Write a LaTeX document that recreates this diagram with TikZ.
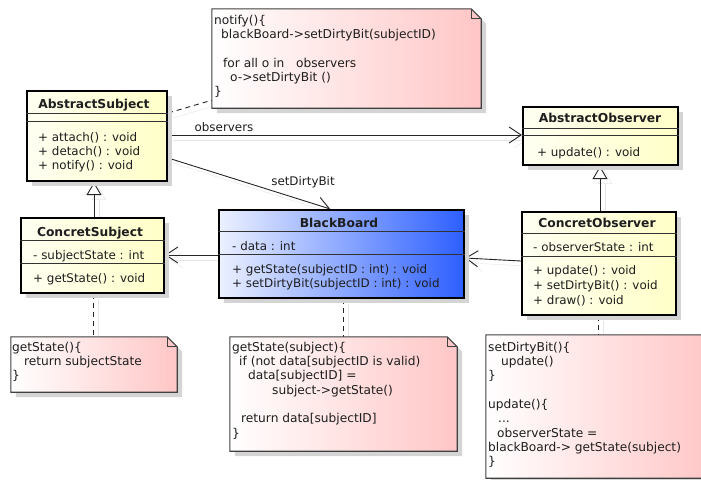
\documentclass[tikz,border=0pt]{standalone}
\usepackage{fontspec}
\setmainfont{DejaVu Sans}
\usetikzlibrary{arrows.meta,shadows,fit}
\definecolor{ylA}{RGB}{255,255,242}
\definecolor{ylB}{RGB}{255,255,200}
\definecolor{bbA}{RGB}{236,241,255}
\definecolor{bbB}{RGB}{45,95,255}
\definecolor{pkB}{RGB}{255,198,198}
\definecolor{txt}{RGB}{30,30,30}
\pgfdeclarelayer{bg}
\pgfsetlayers{bg,main}
\newcommand\notebox[5]{%
  \coordinate (#1nw) at (#2,#3);
  \coordinate (#1se) at (#4,#5);
  \node[fit=(#1nw)(#1se), inner sep=0pt] (#1) {};
  \fill[black!17, transform canvas={shift={(5pt,-5pt)}}] (#1.north west) -- ([xshift=-10pt]#1.north east) -- ([yshift=-10pt]#1.north east) -- (#1.south east) -- (#1.south west) -- cycle;
  \path[notefill] (#1.north west) -- ([xshift=-10pt]#1.north east) -- ([yshift=-10pt]#1.north east) -- (#1.south east) -- (#1.south west) -- cycle;
  \draw[noteline] ([xshift=-10pt]#1.north east) |- ([yshift=-10pt]#1.north east);
}
\begin{document}
\begin{tikzpicture}[x=1pt,y=-1pt,
  font=\fontsize{11.9}{14}\selectfont, text=txt,
  cls/.style={draw=black, line width=2.2pt, inner sep=0pt,
    drop shadow={shadow xshift=5pt, shadow yshift=-5pt, fill=black!17, opacity=1}},
  ylw/.style={cls, left color=ylA, right color=ylB},
  blu/.style={cls, left color=bbA, right color=bbB},
  sepl/.style={draw=black!80, line width=1pt},
  ttl/.style={anchor=base, inner sep=0pt, font=\fontsize{12.3}{14}\selectfont\bfseries},
  mem/.style={anchor=north west, inner sep=0pt, align=left},
  notefill/.style={draw=black!75, line width=1.1pt, left color=white, right color=pkB},
  noteline/.style={draw=black!75, line width=1.1pt},
  notetxt/.style={anchor=north west, inner sep=0pt, align=left, font=\fontsize{12.2}{14.3}\selectfont},
  conn/.style={draw=black!85, line width=0.9pt,
    preaction={draw=black!10, solid, transform canvas={shift={(5pt,-5pt)}}}},
  assoc/.style={conn, -{Straight Barb[length=12pt,width=16pt,line width=0.9pt]}},
  gener/.style={conn, -{Triangle[length=13pt,width=15pt,fill=white,line width=0.9pt]}},
  anchorline/.style={conn, dash pattern=on 5pt off 4pt},
  lbl/.style={inner sep=0pt}
]
\useasboundingbox (0,0) rectangle (701,479);
\begin{pgfonlayer}{bg}
\fill[white] (0,0) rectangle (701,479);
\end{pgfonlayer}

% ---------- notes ----------
\notebox{N1}{212}{9}{481}{108}
\node[notetxt] (N1t) at (214,14) {\rule{0pt}{10pt}notify()\{\\
\hspace*{7pt}blackBoard->setDirtyBit(subjectID)\\
\mbox{}\\
\hspace*{9pt}for all o in \ \ observers\\
\hspace*{16pt}o->setDirtyBit ()\\
\}};

\notebox{N2}{11}{337}{177}{392}
\node[notetxt] (N2t) at (12,341) {\rule{0pt}{10pt}getState()\{\\
\hspace*{12pt}return subjectState\\
\}};

\notebox{N3}{230}{337}{457}{451}
\node[notetxt] (N3t) at (232,341) {\rule{0pt}{10pt}getState(subject)\{\\
\hspace*{7pt}if (not data[subjectID is valid)\\
\hspace*{16pt}data[subjectID] =\\
\hspace*{40pt}subject->getState()\\
\mbox{}\\
\hspace*{9pt}return data[subjectID]\\
\}};

\notebox{N4}{486}{335}{711}{478}
\node[notetxt] (N4t) at (488,341) {\rule{0pt}{10pt}setDirtyBit()\{\\
\hspace*{13pt}update()\\
\}\\
\mbox{}\\
update()\{\\
\hspace*{10pt}...\\
\hspace*{9pt}observerState =\\
blackBoard-> getState(subject)\\
\}};

% ---------- classes ----------
\node[ylw, minimum width=140pt, minimum height=90pt] (AS) at (97,136) {};
\draw[sepl] ([yshift=-24pt]AS.north west) -- ([yshift=-24pt]AS.north east);
\draw[sepl] ([yshift=-32pt]AS.north west) -- ([yshift=-32pt]AS.north east);
\node[ttl] (ASt) at (94,108) {AbstractSubject};
\node[mem] (ASm) at (38,131) {\rule{0pt}{10pt}+ attach() : void\\+ detach() : void\\+ notify() : void};

\node[ylw, minimum width=155pt, minimum height=58pt] (AO) at (600.5,136) {};
\draw[sepl] ([yshift=-23pt]AO.north west) -- ([yshift=-23pt]AO.north east);
\draw[sepl] ([yshift=-30pt]AO.north west) -- ([yshift=-30pt]AO.north east);
\node[ttl] (AOt) at (600,122) {AbstractObserver};
\node[mem] (AOm) at (537,146) {\rule{0pt}{10pt}+ update() : void};

\node[ylw, minimum width=143pt, minimum height=75pt] (CS) at (92.5,255.5) {};
\draw[sepl] ([yshift=-24pt]CS.north west) -- ([yshift=-24pt]CS.north east);
\draw[sepl] ([yshift=-47pt]CS.north west) -- ([yshift=-47pt]CS.north east);
\node[ttl] (CSt) at (90,236) {ConcretSubject};
\node[mem] (CSa) at (33,249) {\rule{0pt}{10pt}- subjectState : int};
\node[mem] (CSm) at (33,272) {\rule{0pt}{10pt}+ getState() : void};

\node[blu, minimum width=245pt, minimum height=88pt] (BB) at (341.5,254) {};
\draw[sepl] ([yshift=-23pt]BB.north west) -- ([yshift=-23pt]BB.north east);
\draw[sepl] ([yshift=-46pt]BB.north west) -- ([yshift=-46pt]BB.north east);
\node[ttl] (BBt) at (339,227) {BlackBoard};
\node[mem] (BBa) at (232,240) {\rule{0pt}{10pt}- data : int};
\node[mem] (BBm) at (232,263) {\rule{0pt}{10pt}+ getState(subjectID : int) : void\\+ setDirtyBit(subjectID : int) : void};

\node[ylw, minimum width=154pt, minimum height=103pt] (CO) at (599,263.5) {};
\draw[sepl] ([yshift=-23pt]CO.north west) -- ([yshift=-23pt]CO.north east);
\draw[sepl] ([yshift=-46pt]CO.north west) -- ([yshift=-46pt]CO.north east);
\node[ttl] (COt) at (597,227) {ConcretObserver};
\node[mem] (COa) at (533,241) {\rule{0pt}{10pt}- observerState : int};
\node[mem, font=\fontsize{11.9}{15}\selectfont] (COm) at (533,264) {\rule{0pt}{10pt}+ update() : void\\+ setDirtyBit() : void\\+ draw() : void};

% ---------- labels ----------
\node[lbl] (lobs) at (224,127) {observers};
\node[lbl] (lsdb) at (303,182) {setDirtyBit};

% ---------- connectors ----------
\begin{pgfonlayer}{bg}
\draw[assoc] ([yshift=1pt]AS.east) -- ([yshift=1pt]AO.west);
\draw[assoc] ([yshift=-22pt]AS.east) -- ([xshift=-11.5pt]BB.north);
\draw[assoc] ([yshift=-1pt]BB.west) -- ([yshift=0.5pt]CS.east);
\draw[assoc] ([yshift=2.5pt]CO.west) -- ([yshift=-4pt]BB.east);
\draw[gener] ([xshift=1.5pt]CS.north) -- ([xshift=-3pt]AS.south);
\draw[gener] ([xshift=1pt]CO.north) -- ([xshift=-0.5pt]AO.south);
\draw[anchorline] ([yshift=23pt]AS.east) -- ([yshift=8pt]N1.south west);
\draw[anchorline] ([xshift=0.5pt]CS.south) -- ([xshift=-1pt]N2.north);
\draw[anchorline] ([xshift=1.5pt]BB.south) -- ([xshift=-0.5pt]N3.north);
\draw[anchorline] ([xshift=-1pt]CO.south) -- ([xshift=-0.5pt]N4.north);
\end{pgfonlayer}
\end{tikzpicture}
\end{document}
